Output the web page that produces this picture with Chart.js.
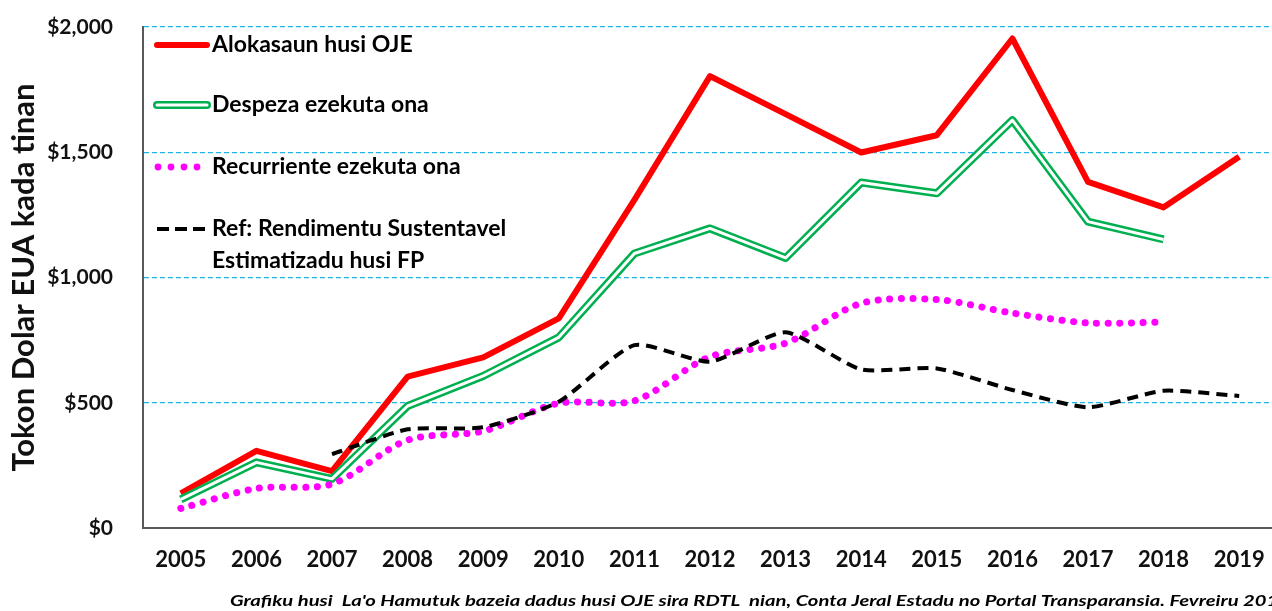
<!DOCTYPE html>
<html>
<head>
<meta charset="utf-8">
<script src="https://cdn.jsdelivr.net/npm/chart.js@4.4.1/dist/chart.umd.min.js"></script>
<style>
  html, body { margin: 0; padding: 0; background: #fff; overflow: hidden; }
  #wrap { width: 1290px; height: 611px; }
</style>
</head>
<body>
<div id="wrap"><canvas id="budgetChart" width="1290" height="611"></canvas></div>
<script>
// Years on the x axis
const years = ['2005', '2006', '2007', '2008', '2009', '2010', '2011', '2012',
               '2013', '2014', '2015', '2016', '2017', '2018', '2019'];

// Values in millions of US dollars
const alokasaun = [138, 308, 227, 604, 681, 837, 1310, 1804, 1652, 1499, 1568, 1954, 1382, 1280, 1482];
const despeza = [114, 262, 196, 487, 607, 761, 1096, 1196, 1078, 1379, 1336, 1628, 1223, 1152, null];
const recurriente = [78, 158, 176, 351, 387, 498, 508, 684, 738, 897, 912, 858, 819, 822, null];
const rendimentu = [null, null, 295, 394, 402, 504, 730, 664, 781, 633, 637, 551, 482, 548, 527];

const yTicks = [0, 500, 1000, 1500, 2000];

const legendLabels = [
    ['Alokasaun husi OJE'],
    ['Despeza ezekuta ona'],
    ['Recurriente ezekuta ona'],
    ['Ref: Rendimentu Sustentavel', 'Estimatizadu husi FP']
];
const caption = "Grafiku husi  La'o Hamutuk bazeia dadus husi OJE sira RDTL  nian, Conta Jeral Estadu no Portal Transparansia. Fevreiru 2019";

const FONT = 'Lato, "Open Sans", sans-serif';

// Legend drawn inside the plot, top-left, like the original
const insideLegend = {
    id: 'insideLegend',
    afterDraw(chart) {
        const ctx = chart.ctx;
        const x0 = 157, x1 = 207, tx = 212;
        const rows = [45, 105, 167, 229];
        ctx.save();
        // red solid
        ctx.lineCap = 'round';
        ctx.strokeStyle = '#ff0000';
        ctx.lineWidth = 6;
        ctx.beginPath(); ctx.moveTo(x0, rows[0]); ctx.lineTo(x1, rows[0]); ctx.stroke();
        // green double line
        ctx.strokeStyle = '#00b050';
        ctx.lineWidth = 8;
        ctx.beginPath(); ctx.moveTo(x0, rows[1]); ctx.lineTo(x1, rows[1]); ctx.stroke();
        ctx.strokeStyle = '#ffffff';
        ctx.lineWidth = 3;
        ctx.beginPath(); ctx.moveTo(x0, rows[1]); ctx.lineTo(x1, rows[1]); ctx.stroke();
        // magenta dots
        ctx.fillStyle = '#ff00ff';
        for (let i = 0; i < 4; i++) {
            ctx.beginPath(); ctx.arc(x0 + 1 + i * 13, rows[2], 3.4, 0, Math.PI * 2); ctx.fill();
        }
        // black dashes
        ctx.strokeStyle = '#000000';
        ctx.lineWidth = 4;
        ctx.lineCap = 'butt';
        for (let i = 0; i < 3; i++) {
            ctx.beginPath(); ctx.moveTo(x0 + i * 18, rows[3]); ctx.lineTo(x0 + i * 18 + 12, rows[3]); ctx.stroke();
        }
        // labels
        ctx.fillStyle = '#000';
        ctx.font = 'bold 23px ' + FONT;
        ctx.textBaseline = 'middle';
        ctx.textAlign = 'left';
        legendLabels.forEach((lines, i) => {
            lines.forEach((t, j) => ctx.fillText(t, tx, rows[i] + j * 32));
        });
        // source caption, clipped at right edge
        ctx.font = 'italic bold 15px ' + FONT;
        ctx.textBaseline = 'middle';
        const w = ctx.measureText(caption).width;
        ctx.translate(230, 601);
        ctx.scale(1060 / w, 1);
        ctx.fillText(caption, 0, 0);
        ctx.restore();
    }
};

const ctx = document.getElementById('budgetChart').getContext('2d');
new Chart(ctx, {
    type: 'line',
    data: {
        labels: years,
        datasets: [
            {
                label: 'Alokasaun husi OJE',
                data: alokasaun,
                borderColor: '#ff0000',
                borderWidth: 6,
                tension: 0,
                order: 4
            },
            {
                label: 'Despeza ezekuta ona',
                data: despeza,
                borderColor: '#00b050',
                borderWidth: 8,
                tension: 0,
                order: 3
            },
            {
                label: 'Despeza inner',
                data: despeza,
                borderColor: '#ffffff',
                borderWidth: 3,
                tension: 0,
                order: 2
            },
            {
                label: 'Recurriente ezekuta ona',
                data: recurriente,
                borderColor: '#ff00ff',
                borderWidth: 7,
                borderDash: [0.1, 11.5],
                borderCapStyle: 'round',
                tension: 0.3,
                order: 1
            },
            {
                label: 'Ref: Rendimentu Sustentavel Estimatizadu husi FP',
                data: rendimentu,
                borderColor: '#000000',
                borderWidth: 4,
                borderDash: [11, 7],
                tension: 0.2,
                order: 0
            }
        ]
    },
    options: {
        responsive: false,
        animation: false,
        layout: { padding: { top: 27, right: 13, left: 0, bottom: 0 } },
        elements: { point: { radius: 0 }, line: { borderJoinStyle: 'round' } },
        scales: {
            x: {
                offset: true,
                grid: { display: false, drawTicks: false },
                border: { display: true, color: '#595959', width: 2 },
                ticks: {
                    color: '#111',
                    padding: 19,
                    font: { family: FONT, size: 22, weight: 'bold' },
                    maxRotation: 0
                },
                afterFit(scale) { scale.height = 83; }
            },
            y: {
                min: 0,
                max: 2000,
                afterBuildTicks(scale) { scale.ticks = yTicks.map(v => ({ value: v })); },
                grid: {
                    drawTicks: true,
                    tickLength: 28,
                    tickColor: 'rgba(0,0,0,0)',
                    color: c => (c.tick && c.tick.value === 0) ? 'rgba(0,0,0,0)' : '#1fb4ea',
                    lineWidth: 1.3
                },
                border: { display: true, color: '#595959', width: 2, dash: [5, 3] },
                ticks: {
                    color: '#111',
                    padding: 2,
                    font: { family: FONT, size: 21, weight: 'bold' },
                    callback: v => '$' + v.toLocaleString('en-US')
                },
                title: {
                    display: true,
                    text: 'Tokon Dolar EUA kada tinan',
                    color: '#111',
                    font: { family: FONT, size: 31, weight: 'bold' },
                    padding: { top: 5, bottom: 0 }
                },
                afterFit(scale) { scale.width = 143; }
            }
        },
        plugins: {
            legend: { display: false },
            tooltip: { enabled: false }
        }
    },
    plugins: [insideLegend]
});
</script>
</body>
</html>
